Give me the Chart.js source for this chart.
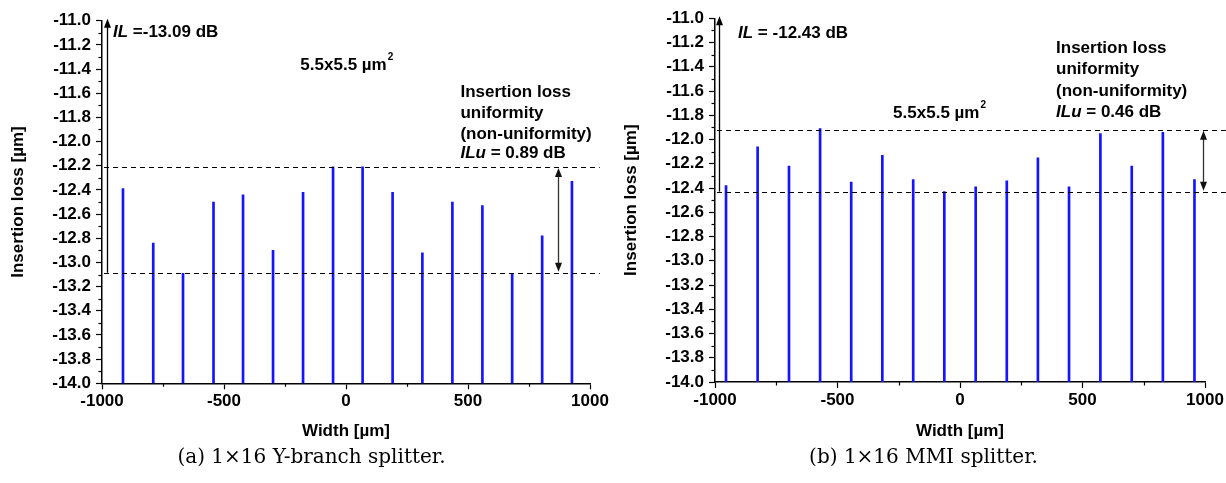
<!DOCTYPE html>
<html lang="en">
<head>
<meta charset="UTF-8" />
<title>Insertion loss of 1x16 splitters</title>
<script src="https://cdn.jsdelivr.net/npm/chart.js"></script>
<style>
  body { margin: 0; background: #fff; width: 1226px; height: 483px; position: relative; overflow: hidden; }
  .panel { position: absolute; top: 0; width: 613px; height: 445px; }
  .caption { position: absolute; top: 444px; width: 613px; text-align: center; line-height: 24px;
             font-family: "DejaVu Serif", "Liberation Serif", serif; font-size: 20px; color: #000; }
</style>
</head>
<body>
<div class="panel" style="left:0"><canvas id="chartA" width="613" height="445"></canvas></div>
<div class="panel" style="left:613px"><canvas id="chartB" width="613" height="445"></canvas></div>
<div class="caption" style="left:5px">(a) 1×16 Y-branch splitter.</div>
<div class="caption" style="left:617px">(b) 1×16 MMI splitter.</div>
<script>
  // output port positions [µm] and insertion loss [dB]
  const yBranchX = [-914, -790, -668, -543, -422, -299, -176, -53, 68, 191, 313, 436, 559, 681, 804, 926];
  const yBranchLoss = [-12.39, -12.84, -13.09, -12.50, -12.44, -12.90, -12.42, -12.21, -12.21, -12.42, -12.92, -12.50, -12.53, -13.09, -12.78, -12.33];
  const mmiX = [-955, -826, -698, -571, -444, -317, -191, -64, 64, 191, 318, 445, 573, 701, 828, 957];
  const mmiLoss = [-12.38, -12.06, -12.22, -11.91, -12.35, -12.13, -12.33, -12.43, -12.39, -12.34, -12.15, -12.39, -11.95, -12.22, -11.94, -12.33];

  // axis ticks
  const xTicks = [-1000, -500, 0, 500, 1000];
  const xMinorTicks = [-750, -250, 250, 750];
  const yTicks = [-14.0, -13.8, -13.6, -13.4, -13.2, -13.0, -12.8, -12.6, -12.4, -12.2, -12.0, -11.8, -11.6, -11.4, -11.2, -11.0];
  const yMinorTicks = [-13.9, -13.7, -13.5, -13.3, -13.1, -12.9, -12.7, -12.5, -12.3, -12.1, -11.9, -11.7, -11.5, -11.3, -11.1];

  const FONT = '"Liberation Sans", Arial, sans-serif';
  const boldFont = size => ({ family: FONT, size: size, weight: 'bold' });

  function arrowHead(ctx, x, y, dir) {
    // dir = -1 points up, +1 points down
    ctx.beginPath();
    ctx.moveTo(x, y);
    ctx.lineTo(x - 3.5, y - dir * 9);
    ctx.lineTo(x + 3.5, y - dir * 9);
    ctx.closePath();
    ctx.fill();
  }

  // draw a line of text made of [text, italic] parts
  function richText(ctx, parts, x, y, size) {
    ctx.textBaseline = 'middle';
    ctx.textAlign = 'left';
    parts.forEach(p => {
      if (p[2] === 'sup') {
        ctx.font = 'bold 10px ' + FONT;
        ctx.fillText(p[0], x + 1, y - 8);
        x += ctx.measureText(p[0]).width + 1;
        return;
      }
      ctx.font = (p[1] ? 'italic ' : '') + 'bold ' + size + 'px ' + FONT;
      ctx.fillText(p[0], x, y);
      x += ctx.measureText(p[0]).width;
    });
  }

  function notesPlugin(note) {
    return {
      id: 'notes',
      afterDraw(chart) {
        const ctx = chart.ctx;
        const xs = chart.scales.x, ys = chart.scales.y;
        const area = chart.chartArea;
        ctx.save();
        ctx.strokeStyle = '#000';
        ctx.fillStyle = '#000';

        // minor ticks
        ctx.lineWidth = 1.2;
        yMinorTicks.forEach(v => {
          const py = Math.round(ys.getPixelForValue(v)) + 0.5;
          ctx.beginPath(); ctx.moveTo(area.left - 3.5, py); ctx.lineTo(area.left, py); ctx.stroke();
        });
        xMinorTicks.forEach(v => {
          const px = Math.round(xs.getPixelForValue(v)) + 0.5;
          ctx.beginPath(); ctx.moveTo(px, area.bottom); ctx.lineTo(px, area.bottom + 3.5); ctx.stroke();
        });

        // dashed max / min levels
        ctx.setLineDash([5, 4]);
        ctx.lineWidth = 1.2;
        [note.upper, note.lower].forEach(v => {
          const py = Math.round(ys.getPixelForValue(v)) + 0.5;
          ctx.beginPath(); ctx.moveTo(area.left + 2, py); ctx.lineTo(xs.getPixelForValue(note.dashTo), py); ctx.stroke();
        });
        ctx.setLineDash([]);

        // IL arrow next to the y axis
        const ax = Math.round(xs.getPixelForValue(note.ilX)) + 0.5;
        const top = ys.getPixelForValue(-11.0) - 2;
        ctx.lineWidth = 1.3;
        ctx.beginPath(); ctx.moveTo(ax, ys.getPixelForValue(note.ilFrom)); ctx.lineTo(ax, top + 6); ctx.stroke();
        arrowHead(ctx, ax, top, -1);

        // ILu double arrow
        const ux = Math.round(xs.getPixelForValue(note.iluX)) + 0.5;
        const u1 = ys.getPixelForValue(note.upper) + 1, u2 = ys.getPixelForValue(note.lower) - 1;
        ctx.strokeStyle = '#333';
        ctx.fillStyle = '#111';
        ctx.beginPath(); ctx.moveTo(ux, u1 + 6); ctx.lineTo(ux, u2 - 6); ctx.stroke();
        arrowHead(ctx, ux, u1, -1);
        arrowHead(ctx, ux, u2, 1);

        // labels
        ctx.fillStyle = '#000';
        note.texts.forEach(t => {
          richText(ctx, t.parts, xs.getPixelForValue(t.x), ys.getPixelForValue(t.y), 17);
        });
        ctx.restore();
      }
    };
  }

  function splitterChart(id, xVals, loss, geo, note) {
    return new Chart(document.getElementById(id), {
      type: 'bar',
      data: {
        datasets: [{
          data: xVals.map((x, i) => ({ x: x, y: [-14.0, loss[i]] })),
          backgroundColor: '#1414ff',
          borderWidth: 0,
          barThickness: 2
        }]
      },
      options: {
        responsive: false,
        animation: false,
        layout: { padding: { left: 0, right: geo.right, top: geo.top, bottom: 0 } },
        plugins: { legend: { display: false }, tooltip: { enabled: false } },
        scales: {
          x: {
            type: 'linear', min: -1000, max: 1000, offset: false,
            afterBuildTicks: s => { s.ticks = xTicks.map(v => ({ value: v })); },
            afterFit: s => { s.height = 445 - geo.bottom; },
            grid: { display: true, offset: false, drawOnChartArea: false, drawTicks: true, tickLength: 6, tickColor: '#000', tickWidth: 1.2 },
            border: { display: true, color: '#000', width: 1.5 },
            ticks: { color: '#000', font: boldFont(17), padding: 2, maxRotation: 0, autoSkip: false, callback: v => String(v) },
            title: { display: true, text: 'Width [µm]', color: '#000', font: boldFont(17), padding: { top: 0, bottom: 3 } }
          },
          y: {
            type: 'linear', min: -14.0, max: -11.0,
            afterBuildTicks: s => { s.ticks = yTicks.map(v => ({ value: v })); },
            afterFit: s => { s.width = geo.left; },
            grid: { display: true, drawOnChartArea: false, drawTicks: true, tickLength: 6, tickColor: '#000', tickWidth: 1.2 },
            border: { display: true, color: '#000', width: 1.5 },
            ticks: { color: '#000', font: boldFont(17), padding: 5, callback: v => v.toFixed(1) },
            title: { display: true, text: 'Insertion loss [µm]', color: '#000', font: boldFont(17), padding: { top: 8, bottom: 0 } }
          }
        }
      },
      plugins: [notesPlugin(note)]
    });
  }

  splitterChart('chartA', yBranchX, yBranchLoss,
    { left: 102, right: 23, top: 20.7, bottom: 383.3 },
    {
      upper: -12.21, lower: -13.085, dashTo: 1040, ilX: -981, ilFrom: -13.085, iluX: 870,
      texts: [
        { x: -955, y: -11.10, parts: [['IL', true], [' =-13.09 dB', false]] },
        { x: -187, y: -11.37, parts: [['5.5x5.5 µm', false], ['2', false, 'sup']] },
        { x: 469, y: -11.59, parts: [['Insertion loss', false]] },
        { x: 469, y: -11.763, parts: [['uniformity', false]] },
        { x: 469, y: -11.937, parts: [['(non-uniformity)', false]] },
        { x: 469, y: -12.10, parts: [['ILu', true], [' = 0.89 dB', false]] }
      ]
    });

  splitterChart('chartB', mmiX, mmiLoss,
    { left: 102, right: 21, top: 18.3, bottom: 382 },
    {
      upper: -11.92, lower: -12.43, dashTo: 1085, ilX: -984, ilFrom: -12.43, iluX: 992,
      texts: [
        { x: -906, y: -11.12, parts: [['IL', true], [' = -12.43 dB', false]] },
        { x: -273, y: -11.78, parts: [['5.5x5.5 µm', false], ['2', false, 'sup']] },
        { x: 392, y: -11.245, parts: [['Insertion loss', false]] },
        { x: 392, y: -11.418, parts: [['uniformity', false]] },
        { x: 392, y: -11.60, parts: [['(non-uniformity)', false]] },
        { x: 392, y: -11.772, parts: [['ILu', true], [' = 0.46 dB', false]] }
      ]
    });
</script>
</body>
</html>
